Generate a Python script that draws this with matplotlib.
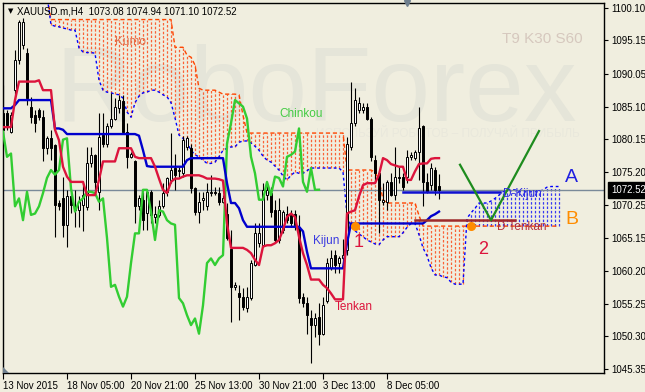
import numpy as np
import matplotlib
matplotlib.use("Agg")
import matplotlib.pyplot as plt
from matplotlib.patches import Polygon
from matplotlib.collections import LineCollection

plt.rcParams['font.family'] = ['Liberation Sans', 'DejaVu Sans']

# ---- XAUUSD H4 candles (bar index 0 = 13 Nov 2015 00:00) ----
opens = [1084.1, 1084.1, 1081.3, 1087.6, 1092.2, 1094.4, 1093.2, 1085.1, 1083.8, 1084.6,
         1083.6, 1078.8, 1080.3, 1079.3, 1070.5, 1071.2, 1067.2, 1071.5, 1070.0, 1069.5,
         1070.2, 1069.9, 1076.5, 1077.8, 1072.2, 1080.8, 1079.5, 1082.1, 1083.3, 1084.9,
         1085.9, 1081.3, 1077.5, 1076.8, 1070.0, 1071.0, 1069.0, 1072.2, 1068.4, 1068.7,
         1070.0, 1072.2, 1074.0, 1075.8, 1075.3, 1075.0, 1079.0, 1078.8, 1072.7, 1069.2,
         1071.0, 1070.0, 1072.0, 1072.2, 1072.0, 1070.7, 1068.9, 1063.6, 1057.8, 1056.8,
         1056.3, 1054.6, 1056.1, 1061.1, 1064.4, 1064.1, 1071.7, 1072.0, 1069.4, 1064.9,
         1066.4, 1068.9, 1068.7, 1068.9, 1066.9, 1056.3, 1055.3, 1053.0, 1052.0, 1053.3,
         1050.7, 1055.6, 1060.6, 1062.6, 1061.4, 1062.1, 1063.4, 1079.0, 1082.6, 1084.6,
         1084.6, 1085.1, 1083.3, 1077.0, 1075.0, 1070.7, 1070.7, 1073.7, 1071.7, 1074.5,
         1074.5, 1074.5, 1077.5, 1077.3, 1078.3, 1082.1, 1073.7, 1073.2, 1075.5, 1073.08]
highs = [1088.4, 1084.6, 1084.3, 1093.7, 1098.2, 1098.5, 1094.0, 1086.6, 1084.6, 1084.9,
         1084.6, 1080.6, 1081.6, 1079.5, 1071.0, 1074.5, 1072.5, 1072.0, 1072.5, 1071.5,
         1073.5, 1079.0, 1079.0, 1078.0, 1084.1, 1084.1, 1082.6, 1087.1, 1086.4, 1086.9,
         1086.9, 1082.6, 1078.3, 1077.0, 1071.7, 1072.2, 1072.5, 1072.5, 1070.0, 1071.0,
         1073.5, 1074.5, 1081.1, 1078.0, 1076.0, 1080.6, 1080.6, 1079.5, 1073.0, 1072.2,
         1072.2, 1073.5, 1074.8, 1073.0, 1073.0, 1071.7, 1070.5, 1066.4, 1058.6, 1058.1,
         1057.6, 1057.8, 1061.9, 1067.4, 1067.4, 1073.5, 1073.5, 1073.0, 1071.0, 1071.2,
         1069.4, 1070.0, 1069.4, 1069.4, 1068.7, 1056.8, 1056.3, 1054.3, 1053.8, 1055.3,
         1056.3, 1062.1, 1063.4, 1063.4, 1062.4, 1065.0, 1080.5, 1088.9, 1087.9, 1086.6,
         1085.6, 1085.6, 1083.6, 1077.8, 1075.3, 1073.5, 1074.0, 1075.0, 1079.0, 1076.0,
         1075.0, 1078.5, 1078.3, 1078.5, 1085.1, 1082.3, 1075.0, 1076.5, 1076.0, 1074.94]
lows = [1079.6, 1081.6, 1081.1, 1085.6, 1091.5, 1093.9, 1085.3, 1082.6, 1081.3, 1083.1,
        1076.8, 1078.0, 1077.0, 1065.4, 1069.5, 1065.4, 1063.9, 1069.0, 1066.9, 1066.9,
        1066.2, 1069.4, 1076.0, 1072.2, 1069.4, 1079.0, 1079.0, 1081.8, 1083.1, 1084.1,
        1081.1, 1075.8, 1077.3, 1067.4, 1069.5, 1066.4, 1066.4, 1067.4, 1067.4, 1068.4,
        1069.7, 1071.5, 1073.5, 1072.5, 1074.5, 1074.5, 1078.5, 1072.0, 1068.7, 1067.4,
        1069.4, 1069.4, 1071.5, 1071.7, 1070.2, 1070.5, 1064.9, 1052.5, 1057.3, 1052.8,
        1054.3, 1054.0, 1055.8, 1060.9, 1063.9, 1063.9, 1071.0, 1068.4, 1064.4, 1064.4,
        1065.9, 1067.4, 1066.9, 1066.4, 1055.3, 1054.8, 1050.7, 1046.2, 1050.2, 1049.0,
        1050.5, 1055.3, 1060.4, 1059.9, 1059.9, 1061.9, 1062.6, 1078.5, 1082.1, 1084.1,
        1084.1, 1083.1, 1076.8, 1073.5, 1065.9, 1070.2, 1069.4, 1071.5, 1071.0, 1073.5,
        1072.5, 1073.5, 1077.0, 1077.0, 1074.0, 1070.0, 1072.0, 1072.5, 1071.7, 1071.10]
closes = [1081.6, 1082.3, 1083.8, 1092.2, 1097.9, 1097.9, 1086.4, 1083.6, 1082.6, 1083.6,
          1078.8, 1080.3, 1078.8, 1070.2, 1070.0, 1067.2, 1071.5, 1070.2, 1069.5, 1070.7,
          1071.7, 1076.5, 1077.8, 1073.7, 1080.5, 1079.5, 1082.1, 1083.3, 1085.1, 1086.1,
          1081.3, 1077.5, 1078.0, 1070.0, 1071.2, 1067.9, 1072.2, 1068.7, 1068.9, 1070.0,
          1072.0, 1074.3, 1075.5, 1074.8, 1075.5, 1080.1, 1080.3, 1072.7, 1069.2, 1070.7,
          1071.2, 1072.2, 1072.2, 1072.0, 1070.7, 1071.2, 1065.2, 1057.8, 1058.1, 1056.3,
          1054.8, 1056.3, 1061.4, 1065.9, 1065.9, 1072.5, 1072.5, 1069.2, 1064.9, 1069.4,
          1069.2, 1067.9, 1067.4, 1067.2, 1056.1, 1055.3, 1053.5, 1052.0, 1053.0, 1050.7,
          1055.0, 1061.4, 1062.1, 1061.1, 1062.1, 1062.6, 1079.5, 1082.6, 1086.1, 1085.6,
          1085.1, 1083.3, 1077.5, 1075.0, 1071.0, 1071.0, 1073.7, 1071.7, 1074.5, 1074.3,
          1073.0, 1077.5, 1077.8, 1078.3, 1081.8, 1073.7, 1072.2, 1075.8, 1072.5, 1072.52]

# ---- Ichimoku (T9 K30 S60) ----
tenkan = [1082.0, 1082.0, 1082.0, 1086.1, 1088.9, 1088.9, 1088.9, 1088.9, 1088.9, 1089.1,
          1087.6, 1087.6, 1087.6, 1081.6, 1080.0, 1076.0, 1074.5, 1073.7, 1073.7, 1073.7,
          1073.7, 1071.7, 1071.7, 1071.7, 1074.0, 1076.8, 1076.8, 1076.8, 1076.8, 1078.8,
          1078.8, 1078.8, 1078.8, 1077.5, 1077.3, 1077.3, 1077.3, 1077.3, 1076.0, 1074.2,
          1072.5, 1072.0, 1073.7, 1074.2, 1074.2, 1074.5, 1074.7, 1074.7, 1074.7, 1074.7,
          1074.5, 1074.2, 1074.2, 1074.2, 1074.1, 1073.9, 1067.4, 1063.7, 1063.7, 1063.7,
          1063.7, 1063.4, 1062.9, 1061.9, 1061.1, 1063.9, 1064.1, 1064.1, 1064.4, 1064.9,
          1066.4, 1068.4, 1068.9, 1068.4, 1065.4, 1062.9, 1061.1, 1058.9, 1058.9, 1058.9,
          1058.1, 1057.6, 1056.8, 1055.9, 1055.9, 1055.9, 1068.9, 1069.2, 1069.4, 1071.5,
          1073.2, 1073.5, 1073.5, 1073.5, 1074.8, 1077.3, 1077.0, 1076.4, 1076.2, 1076.0,
          1076.0, 1074.0, 1074.0, 1075.3, 1076.4, 1076.5, 1076.5, 1077.2, 1077.3, 1077.3]
kijun = [1084.85, 1084.85, 1084.85, 1085.35, 1086.1, 1086.1, 1086.1, 1086.1, 1086.1, 1086.1,
         1086.1, 1086.1, 1086.1, 1081.8, 1081.8, 1081.6, 1080.95, 1080.95, 1080.95, 1080.95,
         1080.95, 1080.95, 1080.95, 1080.95, 1080.95, 1080.95, 1080.95, 1080.95, 1080.95, 1080.95,
         1080.95, 1080.95, 1080.95, 1080.95, 1080.7, 1078.5, 1076.1, 1076.0, 1076.0, 1076.0,
         1076.0, 1076.0, 1076.0, 1076.0, 1076.0, 1076.0, 1077.0, 1077.3, 1077.3, 1077.3,
         1077.3, 1077.3, 1077.3, 1077.3, 1077.3, 1077.3, 1073.5, 1070.5, 1070.5, 1069.7,
         1067.9, 1066.9, 1066.9, 1066.9, 1066.9, 1066.9, 1066.9, 1066.9, 1066.9, 1066.9,
         1066.9, 1066.9, 1066.9, 1066.9, 1066.9, 1066.2, 1063.1, 1060.6, 1060.6, 1060.6,
         1060.6, 1060.6, 1060.6, 1060.6, 1060.6, 1060.6, 1064.4, 1067.4, 1067.4, 1067.4,
         1067.4, 1067.4, 1067.4, 1067.4, 1067.4, 1067.4, 1067.4, 1067.4, 1067.4, 1067.4,
         1067.4, 1067.4, 1067.4, 1067.4, 1067.4, 1067.4, 1067.9, 1068.5, 1068.8, 1069.2]
# senkou spans, already shifted 30 bars forward (values above 1100.8 are off the chart)
span_a = [1102.0, 1102.0, 1102.0, 1102.0, 1102.0, 1102.0, 1102.0, 1102.0, 1102.0, 1102.0,
          1102.0, 1102.0, 1098.3, 1098.3, 1098.3, 1098.3, 1098.3, 1098.3, 1098.3, 1098.3,
          1098.3, 1098.3, 1098.3, 1098.3, 1098.3, 1098.3, 1098.3, 1098.3, 1098.3, 1098.3,
          1098.3, 1098.3, 1098.3, 1098.3, 1098.3, 1098.3, 1098.3, 1098.3, 1098.3, 1098.3,
          1098.3, 1098.3, 1098.3, 1094.1, 1094.1, 1094.1, 1092.9, 1092.6, 1091.4, 1087.9,
          1087.6, 1087.6, 1087.6, 1087.6, 1087.3, 1087.0, 1087.0, 1087.0, 1087.0, 1086.9,
          1083.8, 1081.1, 1081.1, 1081.1, 1081.1, 1081.1, 1081.1, 1081.1, 1081.1, 1081.1,
          1081.1, 1081.1, 1081.1, 1081.1, 1081.1, 1081.1, 1081.1, 1081.1, 1081.1, 1081.1,
          1081.1, 1081.1, 1081.1, 1081.1, 1081.1, 1081.1, 1075.5, 1075.5, 1075.5, 1075.5,
          1075.5, 1075.5, 1075.5, 1075.2, 1074.0, 1071.0, 1070.5, 1070.5, 1070.5, 1070.5,
          1070.5, 1070.5, 1070.5, 1070.5, 1068.6, 1067.0, 1067.0, 1067.0, 1067.0, 1067.0,
          1067.0, 1067.0, 1067.0, 1067.0, 1067.0, 1067.0, 1067.0, 1067.0, 1067.0, 1067.0,
          1067.0, 1067.0, 1067.0, 1067.0, 1067.0, 1067.0, 1067.0, 1067.0, 1067.0, 1067.0,
          1067.0, 1067.0, 1067.0, 1067.0, 1067.0, 1067.0, 1067.0, 1067.0, 1067.0, 1067.0]
span_b = [1102.0, 1102.0, 1102.0, 1102.0, 1102.0, 1102.0, 1102.0, 1102.0, 1102.0, 1102.0,
          1102.0, 1102.0, 1097.5, 1097.3, 1097.2, 1097.0, 1096.9, 1096.7, 1096.7, 1094.0,
          1093.4, 1093.3, 1093.3, 1093.2, 1089.1, 1087.6, 1087.3, 1087.2, 1087.0, 1086.9,
          1086.4, 1084.3, 1083.5, 1085.7, 1086.7, 1087.2, 1087.3, 1087.6, 1087.6, 1087.3,
          1086.9, 1086.6, 1085.7, 1083.4, 1080.8, 1080.3, 1079.7, 1078.5, 1077.8, 1077.5,
          1077.0, 1076.5, 1076.5, 1076.7, 1077.5, 1078.5, 1078.8, 1079.0, 1079.0, 1079.7,
          1079.9, 1079.9, 1079.6, 1079.1, 1078.5, 1077.6, 1077.0, 1076.7, 1076.1, 1075.5,
          1074.6, 1074.0, 1074.7, 1075.2, 1075.0, 1075.0, 1075.4, 1075.8, 1075.8, 1075.8,
          1075.8, 1075.8, 1075.8, 1075.8, 1075.8, 1075.2, 1068.7, 1066.9, 1066.3, 1065.8,
          1065.4, 1064.9, 1064.6, 1064.3, 1064.2, 1064.9, 1065.4, 1065.4, 1065.4, 1065.4,
          1066.0, 1066.8, 1067.4, 1067.4, 1065.7, 1063.7, 1062.5, 1060.7, 1059.6, 1059.6,
          1059.3, 1059.2, 1058.5, 1058.2, 1058.2, 1058.2, 1068.2, 1069.0, 1069.7, 1070.5,
          1070.5, 1070.5, 1070.8, 1071.2, 1071.7, 1072.2, 1072.5, 1072.5, 1072.5, 1072.2,
          1072.2, 1072.2, 1072.2, 1072.2, 1072.2, 1072.5, 1072.9, 1073.0, 1073.0, 1073.0]
chinkou_shift = 30

# ---- analyst drawings ----
dkijun_x, dkijun_level = [100, 124.25], 1072.1
dtenkan_x, dtenkan_level = [103, 128], 1067.9
v_x = [114.25, 122, 134]
v_y = [1076.3, 1067.9, 1081.4]
dot_x = [88, 117]
dot_y = [1067.0, 1067.0]
last_price = 1072.52

y_ticks = [1100.10, 1095.15, 1090.05, 1085.10, 1080.15, 1075.20, 1070.25,
           1065.15, 1060.20, 1055.25, 1050.30, 1045.35]
x_tick_bars = [0, 16, 32, 48, 64, 80, 96]
x_tick_labels = ['13 Nov 2015', '18 Nov 05:00', '20 Nov 21:00', '25 Nov 13:00',
                 '30 Nov 21:00', '3 Dec 13:00', '8 Dec 05:00']

bg = '#F0EEDF'
fig = plt.figure(figsize=(6.45, 3.92), dpi=100)
fig.patch.set_facecolor(bg)
ax = fig.add_axes([3 / 645, 19 / 392, 601 / 645, 370 / 392])
ax.set_facecolor(bg)
ax.set_xlim(0, 150.25)
ax.set_ylim(1044.74, 1100.81)

# watermark (inside the axes, behind everything)
ax.text(0.49, 1 - 121 / 392, 'RoboForex', fontsize=76, color='#E5E5D9',
        ha='center', va='baseline', transform=fig.transFigure, zorder=0.2)
ax.text(316 / 645, 1 - 137 / 392, 'ИСПОЛЬЗУЙ РОБОТОВ – ПОЛУЧАЙ ПРИБЫЛЬ',
        fontsize=8.5, color='#E9E8DC', ha='left', va='baseline',
        transform=fig.transFigure, zorder=0.3)

# kumo hatch: one dashed vertical per bar, colour by which span is on top
a = np.array(span_a)
b = np.array(span_b)
cb = np.arange(len(a))
segs = [[(x, lo_), (x, hi_)] for x, lo_, hi_ in zip(cb, np.minimum(a, b), np.maximum(a, b))]
cols = ['#FA6236' if ai >= bi else '#3838F2' for ai, bi in zip(a, b)]
ax.add_collection(LineCollection(segs, colors=cols, linewidths=0.9,
                                 linestyles=[(0, (2.0, 1.5))], zorder=1))
ax.plot(cb, a, color='#FF4500', ls=(0, (3, 2)), lw=1.0, zorder=2)
ax.plot(cb, b, color='#0000FF', ls=(0, (2, 2)), lw=1.0, zorder=2)

ax.axhline(last_price, color='#7A8A99', lw=1.0, zorder=2.5)

# candles
o = np.array(opens); h = np.array(highs); l = np.array(lows); c = np.array(closes)
idx = np.arange(len(c))
up = c >= o
ax.vlines(idx, l, h, color='black', lw=0.8, zorder=3)
lo = np.minimum(o, c)
hh = np.maximum(np.abs(c - o), 0.05)
ax.bar(idx[up], hh[up], bottom=lo[up], width=0.5, color='white',
       edgecolor='black', lw=0.7, zorder=4)
ax.bar(idx[~up], hh[~up], bottom=lo[~up], width=0.5, color='black',
       edgecolor='black', lw=0.7, zorder=4)

# ichimoku lines
ax.plot(idx[chinkou_shift:] - chinkou_shift, c[chinkou_shift:], color='#32CD32', lw=1.7, zorder=5)
ax.plot(idx, kijun, color='#0000CD', lw=1.7, zorder=5)
ax.plot(idx, tenkan, color='#DC143C', lw=1.7, zorder=5)

# drawings
ax.plot(dkijun_x, [dkijun_level] * 2, color='#1010D0', lw=1.8, zorder=6)
ax.plot(dtenkan_x, [dtenkan_level] * 2, color='#9E2A2A', lw=1.8, zorder=6)
ax.plot(v_x, v_y, color='#1E8C1E', lw=1.6, zorder=6)
ax.plot(dot_x, dot_y, ls='none', marker='o', ms=5.5, color='#FF8C00', zorder=7)

# labels
ax.text(28, 1094.9, 'Kumo', color='#E0704C', fontsize=8.5, va='center', zorder=6)
ax.text(69.2, 1084.0, 'Chinkou', color='#44CC44', fontsize=8.5, va='center', zorder=6)
ax.text(77.5, 1064.7, 'Kijun', color='#3A3AE0', fontsize=8.5, va='center', zorder=6)
ax.text(83, 1054.8, 'Tenkan', color='#DC143C', fontsize=8.5, va='center', zorder=6)
ax.text(88.9, 1064.5, '1', color='#DC143C', fontsize=13, ha='center', va='center', zorder=6)
ax.text(120, 1063.5, '2', color='#DC143C', fontsize=13, ha='center', va='center', zorder=6)
ax.text(142.1, 1074.4, 'A', color='#2020E0', fontsize=14, ha='center', va='center', zorder=6)
ax.text(142.1, 1068.0, 'B', color='#FF8C00', fontsize=14, ha='center', va='center', zorder=6)
ax.text(125, 1071.8, 'D-Kijun', color='#2F2FE0', fontsize=8.5, va='center', zorder=6)
ax.text(123.5, 1066.8, 'D Tenkan', color='#B4323C', fontsize=8.5, va='center', zorder=6)
ax.text(124.75, 1095.35, 'T9 K30 S60', color='#D6C8BE', fontsize=11, va='center', zorder=0.5)

# header
fig.text(17 / 645, 1 - 15 / 392, 'XAUUSD.m,H4  1073.08 1074.94 1071.10 1072.52',
         fontsize=7, color='black', va='baseline')
fig.text(10.5 / 645, 1 - 11 / 392, '▼', fontsize=5, color='black', ha='center',
         va='center', family='DejaVu Sans')
ax.plot([101], [1], transform=ax.get_xaxis_transform(), marker='v', ms=5,
        color='#6E7F8E', clip_on=False, zorder=8)
fig.patches.append(Polygon([(3 / 645, 19 / 392), (9 / 645, 19 / 392), (3 / 645, 25 / 392)],
                           closed=True, transform=fig.transFigure, fc='#6E7F8E', ec='none'))

# axes
for s in ax.spines.values():
    s.set_color('black')
    s.set_linewidth(1.0)
ax.yaxis.tick_right()
ax.set_yticks(y_ticks)
ax.set_yticklabels([f'{v:.2f}' for v in y_ticks])
ax.set_xticks(x_tick_bars)
ax.set_xticklabels(x_tick_labels, ha='left')
ax.tick_params(axis='y', length=3, pad=2, labelsize=7, width=0.8)
ax.tick_params(axis='x', length=4, pad=2, labelsize=7, width=0.8)

ax.annotate(f'{last_price:.2f}', xy=(1, last_price), xycoords=('axes fraction', 'data'),
            xytext=(5, 0), textcoords='offset points', color='white', fontsize=7,
            ha='left', va='center',
            bbox=dict(boxstyle='square,pad=0.3', fc='black', ec='black'), zorder=9)

fig.savefig('out.png', dpi=100, facecolor=bg)
